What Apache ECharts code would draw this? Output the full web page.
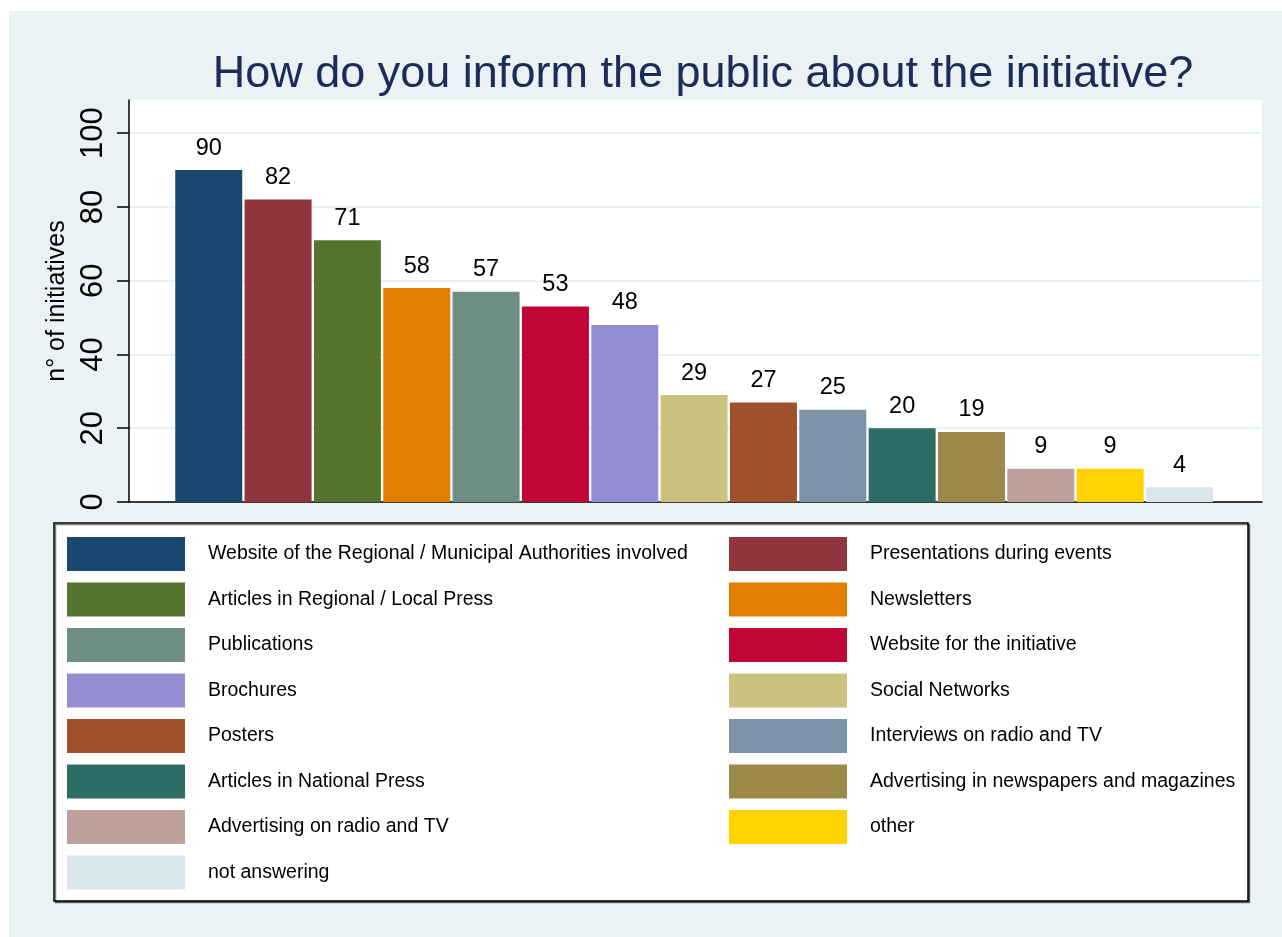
<!DOCTYPE html>
<html>
<head>
<meta charset="utf-8">
<script src="https://cdn.jsdelivr.net/npm/echarts@6/dist/echarts.min.js"></script>
<style>
html,body{margin:0;padding:0;background:#ffffff;}
#bg{position:absolute;left:9px;top:11px;width:1273px;height:926px;background:#eaf2f3;}
#chart{position:absolute;left:0;top:0;width:1282px;height:937px;}
</style>
</head>
<body>
<div id="bg"></div>
<div id="chart"></div>
<script>
const titleText = "How do you inform the public about the initiative?";
const yAxisName = "n° of initiatives";
const categories = [
  "Website of the Regional / Municipal Authorities involved",
  "Presentations during events",
  "Articles in Regional / Local Press",
  "Newsletters",
  "Publications",
  "Website for the initiative",
  "Brochures",
  "Social Networks",
  "Posters",
  "Interviews on radio and TV",
  "Articles in National Press",
  "Advertising in newspapers and magazines",
  "Advertising on radio and TV",
  "other",
  "not answering"
];
const values = [90, 82, 71, 58, 57, 53, 48, 29, 27, 25, 20, 19, 9, 9, 4];
const colors = ["#1a476f", "#90353b", "#55752f", "#e37e00", "#6e8e84", "#c10534", "#938dd2",
  "#cac27e", "#a0522d", "#7b92a8", "#2d6d66", "#9c8847", "#bfa19c", "#ffd200", "#d9e6eb"];
const yTicks = [0, 20, 40, 60, 80, 100];

const series = categories.map((name, i) => ({
  name: name,
  type: 'bar',
  data: [[i, values[i]]],
  barWidth: 67,
  barGap: '-100%',
  itemStyle: { color: colors[i] },
  label: {
    show: true, position: 'top', distance: 10,
    fontSize: 23.5, color: '#000', fontFamily: 'Liberation Sans, Arial, sans-serif',
    formatter: p => p.value[1]
  },
  emphasis: { disabled: true },
  silent: true,
  animation: false
}));

const leftNames = categories.filter((_, i) => i % 2 === 0);
const rightNames = categories.filter((_, i) => i % 2 === 1);

const legendCommon = {
  orient: 'vertical',
  top: 537,
  padding: 0,
  itemWidth: 118,
  itemHeight: 34,
  itemGap: 11.5,
  icon: 'rect',
  selectedMode: false,
  textStyle: { fontSize: 19.5, color: '#000', fontFamily: 'Liberation Sans, Arial, sans-serif', padding: [0, 0, 0, 18] }
};

const chart = echarts.init(document.getElementById('chart'), null, { renderer: 'canvas' });
chart.setOption({
  backgroundColor: 'transparent',
  animation: false,
  title: {
    text: titleText,
    left: 698, top: 47, textAlign: 'center',
    textStyle: { fontSize: 45, fontWeight: 'normal', color: '#1c2b57', fontFamily: 'Liberation Sans, Arial, sans-serif' }
  },
  graphic: [{
    type: 'rect', shape: { x: 54, y: 523, width: 1194, height: 378 },
    style: { fill: '#fff', stroke: '#000', lineWidth: 1.5, shadowColor: 'rgba(0,0,0,0.5)', shadowOffsetX: 1.5, shadowOffsetY: 1.5, shadowBlur: 0 },
    z: -1, silent: true
  }],
  legend: [
    Object.assign({}, legendCommon, { left: 67, data: leftNames }),
    Object.assign({}, legendCommon, { left: 729, data: rightNames })
  ],
  grid: {
    left: 129, right: 20, top: 100, bottom: 435,
    show: true, backgroundColor: '#fff', borderWidth: 0
  },
  xAxis: {
    type: 'value', min: -1.15, max: 15.19,
    axisLine: { show: true, onZero: false, lineStyle: { color: '#000', width: 1.5 } },
    axisTick: { show: false }, axisLabel: { show: false }, splitLine: { show: false }
  },
  yAxis: {
    type: 'value', min: 0, max: 109, interval: 20,
    name: yAxisName, nameLocation: 'middle', nameGap: 49, nameRotate: 90,
    nameTextStyle: { fontSize: 25, color: '#000', fontFamily: 'Liberation Sans, Arial, sans-serif' },
    axisLine: { show: true, onZero: false, lineStyle: { color: '#000', width: 1.5 } },
    axisTick: { show: true, length: 12, customValues: yTicks, lineStyle: { color: '#000', width: 1.5 } },
    axisLabel: { rotate: 90, margin: 20, fontSize: 31, color: '#000', customValues: yTicks,
      fontFamily: 'Liberation Sans, Arial, sans-serif' },
    splitLine: { show: true, lineStyle: { color: '#eaf2f3', width: 2 } }
  },
  series: series
});
</script>
</body>
</html>
